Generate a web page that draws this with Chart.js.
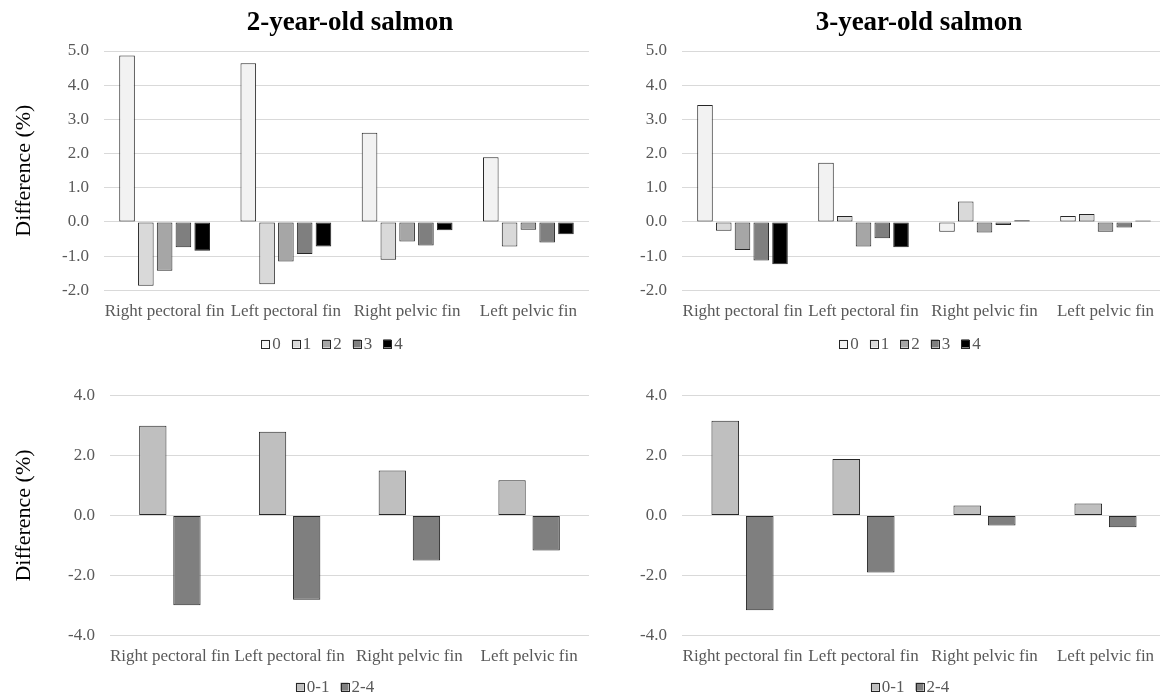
<!DOCTYPE html>
<html>
<head>
<meta charset="utf-8">
<script src="https://cdn.jsdelivr.net/npm/chart.js@4.4.1/dist/chart.umd.min.js"></script>
<style>
  html, body { margin: 0; padding: 0; background: #fff; overflow: hidden; }
  #wrap { position: relative; width: 1160px; height: 697px; overflow: hidden; background: #fff; }
  canvas { position: absolute; }
</style>
</head>
<body>
<div id="wrap">
  <canvas id="c2yScores" width="600" height="360" style="left:0;top:0"></canvas>
  <canvas id="c3yScores" width="590" height="360" style="left:590px;top:0"></canvas>
  <canvas id="c2yGroups" width="600" height="340" style="left:0;top:360px"></canvas>
  <canvas id="c3yGroups" width="590" height="340" style="left:590px;top:360px"></canvas>
</div>
<script>
// Fin categories shared by all four panels
const fins = ['Right pectoral fin', 'Left pectoral fin', 'Right pelvic fin', 'Left pelvic fin'];

// Fin score classes (top row) and pooled classes (bottom row)
const scoreLabels = ['0', '1', '2', '3', '4'];
const groupLabels = ['0-1', '2-4'];

// Difference (%) per fin score, 2-year-old salmon
const twoYear0 = [4.87, 4.64, 2.61, 1.89];
const twoYear1 = [-1.87, -1.82, -1.11, -0.72];
const twoYear2 = [-1.43, -1.16, -0.57, -0.23];
const twoYear3 = [-0.74, -0.94, -0.69, -0.60];
const twoYear4 = [-0.84, -0.72, -0.24, -0.36];

// Difference (%) per fin score, 3-year-old salmon
const threeYear0 = [3.42, 1.73, -0.29, 0.17];
const threeYear1 = [-0.26, 0.17, 0.60, 0.23];
const threeYear2 = [-0.82, -0.72, -0.31, -0.29];
const threeYear3 = [-1.13, -0.48, -0.09, -0.16];
const threeYear4 = [-1.24, -0.74, 0.05, 0.04];

// Difference (%) for pooled score groups
const twoYearLow = [3.00, 2.80, 1.50, 1.18];
const twoYearHigh = [-3.00, -2.81, -1.50, -1.17];
const threeYearLow = [3.16, 1.89, 0.33, 0.40];
const threeYearHigh = [-3.16, -1.90, -0.33, -0.39];

// Y-axis tick ranges
const scoreTicks = { min: -2, max: 5, step: 1 };
const groupTicks = { min: -4, max: 4, step: 2 };

const scoreFills = ['#f2f2f2', '#d9d9d9', '#a6a6a6', '#7f7f7f', '#000000'];
const groupFills = ['#bfbfbf', '#7f7f7f'];
const SERIF = "'Liberation Serif', 'Times New Roman', serif";
const TEXT_GREY = '#595959';
const EDGE = '#262626';

// Keeps the title box centred on a chosen x
const recenter = {
  id: 'recenter',
  afterLayout(chart, args, opts) {
    const box = chart.titleBlock;
    if (!box || opts.titleX == null) return;
    const w = box.right - box.left;
    box.left = opts.titleX - w / 2;
    box.right = opts.titleX + w / 2;
  }
};

// Compact legend row: small swatch hugging its label, wider gap between entries
const swatchLegend = {
  id: 'swatchLegend',
  afterDraw(chart, args, opts) {
    const ctx = chart.ctx;
    const sets = chart.data.datasets;
    const box = 8, gapText = 3, gapItem = 11;
    ctx.save();
    ctx.font = '17px ' + SERIF;
    const widths = sets.map(d => box + gapText + ctx.measureText(d.label).width);
    const total = widths.reduce((a, b) => a + b, 0) + gapItem * (sets.length - 1);
    let x = opts.x - total / 2;
    const y = opts.y;
    sets.forEach((d, i) => {
      ctx.fillStyle = d.backgroundColor;
      ctx.fillRect(x, y - box / 2, box, box);
      ctx.strokeStyle = EDGE;
      ctx.lineWidth = 1;
      ctx.strokeRect(Math.round(x) + 0.5, Math.round(y - box / 2) + 0.5, box, box);
      ctx.fillStyle = TEXT_GREY;
      ctx.textBaseline = 'middle';
      ctx.textAlign = 'left';
      ctx.fillText(d.label, x + box + gapText, y + 1);
      x += widths[i] + gapItem;
    });
    ctx.restore();
  }
};

function makeDatasets(labels, series, fills) {
  return labels.map((lab, i) => ({
    label: lab,
    data: series[i],
    backgroundColor: fills[i],
    borderColor: EDGE,
    borderWidth: 1,
    borderSkipped: false
  }));
}

function panel(id, cfg) {
  const ctx = document.getElementById(id);
  return new Chart(ctx, {
    type: 'bar',
    data: { labels: fins, datasets: makeDatasets(cfg.labels, cfg.series, cfg.fills) },
    plugins: [recenter, swatchLegend],
    options: {
      responsive: false,
      animation: false,
      devicePixelRatio: 1,
      layout: { padding: cfg.padding },
      datasets: { bar: { categoryPercentage: cfg.catPct, barPercentage: cfg.barPct } },
      plugins: {
        recenter: { titleX: cfg.titleX },
        swatchLegend: { x: cfg.legendX, y: cfg.legendY },
        tooltip: { enabled: false },
        legend: { display: false },
        title: {
          display: !!cfg.title,
          text: cfg.title || '',
          color: '#000',
          font: { family: SERIF, size: 27, weight: 'bold', lineHeight: 1.2 },
          padding: { top: 6.8, bottom: 11.8 }
        }
      },
      scales: {
        x: {
          grid: { display: false, drawTicks: false },
          border: { display: false },
          ticks: {
            color: TEXT_GREY,
            font: { family: SERIF, size: 17 },
            padding: 11,
            maxRotation: 0,
            minRotation: 0,
            autoSkip: false
          },
          afterFit(scale) { scale.height = 40; }
        },
        y: {
          min: cfg.ticks.min,
          max: cfg.ticks.max,
          grid: { color: '#d9d9d9', lineWidth: 1, drawTicks: false },
          border: { display: false },
          ticks: {
            stepSize: cfg.ticks.step,
            color: TEXT_GREY,
            font: { family: SERIF, size: 17 },
            padding: 15,
            callback: v => Number(v).toFixed(1)
          },
          title: {
            display: !!cfg.yTitle,
            text: 'Difference (%)',
            color: '#000',
            font: { family: SERIF, size: 22 }
          },
          afterFit(scale) { scale.width = cfg.yWidth; }
        }
      }
    }
  });
}

// Top row: per-score differences
panel('c2yScores', {
  title: '2-year-old salmon', yTitle: true,
  labels: scoreLabels, fills: scoreFills,
  series: [twoYear0, twoYear1, twoYear2, twoYear3, twoYear4],
  ticks: scoreTicks,
  padding: { left: 7, right: 11, top: 0, bottom: 29.7 },
  yWidth: 97,
  catPct: 0.775, barPct: 0.83,
  titleX: 350, legendX: 332, legendY: 343.5
});
panel('c3yScores', {
  title: '3-year-old salmon', yTitle: false,
  labels: scoreLabels, fills: scoreFills,
  series: [threeYear0, threeYear1, threeYear2, threeYear3, threeYear4],
  ticks: scoreTicks,
  padding: { left: 9, right: 14, top: 0, bottom: 29.7 },
  yWidth: 83,
  catPct: 0.775, barPct: 0.83,
  titleX: 329, legendX: 320, legendY: 343.5
});

// Bottom row: pooled score groups
panel('c2yGroups', {
  title: null, yTitle: true,
  labels: groupLabels, fills: groupFills,
  series: [twoYearLow, twoYearHigh],
  ticks: groupTicks,
  padding: { left: 7, right: 11, top: 35.7, bottom: 24.7 },
  yWidth: 103,
  catPct: 0.57, barPct: 0.8,
  titleX: null, legendX: 335, legendY: 326.7
});
panel('c3yGroups', {
  title: null, yTitle: false,
  labels: groupLabels, fills: groupFills,
  series: [threeYearLow, threeYearHigh],
  ticks: groupTicks,
  padding: { left: 9, right: 14, top: 35.7, bottom: 24.7 },
  yWidth: 83,
  catPct: 0.57, barPct: 0.8,
  titleX: null, legendX: 320, legendY: 326.7
});
</script>
</body>
</html>
